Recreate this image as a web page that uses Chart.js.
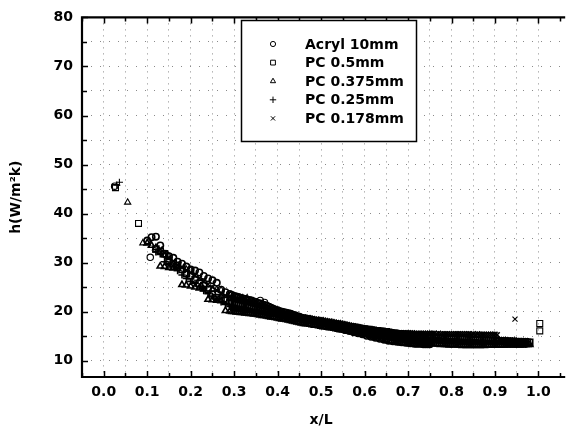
<!DOCTYPE html>
<html><head><meta charset="utf-8">
<script src="https://cdn.jsdelivr.net/npm/chart.js@4.4.0/dist/chart.umd.min.js"></script>
<style>html,body{margin:0;padding:0;background:#fff;overflow:hidden}#wrap{width:566px;height:429px;position:relative}</style>
</head><body><div id="wrap"><canvas id="c" width="566" height="429"></canvas></div>
<script>
// ---- data ----
const seriesNames = ['Acryl 10mm', 'PC 0.5mm', 'PC 0.375mm', 'PC 0.25mm', 'PC 0.178mm'];
const xTickLabels = ['0.0','0.1','0.2','0.3','0.4','0.5','0.6','0.7','0.8','0.9','1.0'];
const yTickLabels = ['10','20','30','40','50','60','70','80'];

const bandX = [
  0.10,0.11,0.12,0.13,0.14,0.15,0.16,0.17,0.18,0.19,
  0.20,0.21,0.22,0.23,0.24,0.25,0.26,0.27,0.28,0.29,
  0.30,0.31,0.32,0.33,0.34,0.35,0.36,0.37,0.38,0.39,
  0.40,0.41,0.42,0.43,0.44,0.45,0.46,0.47,0.48,0.49,
  0.50,0.51,0.52,0.53,0.54,0.55,0.56,0.57,0.58,0.59,
  0.60,0.61,0.62,0.63,0.64,0.65,0.66,0.67,0.68,0.69,
  0.70,0.71,0.72,0.73,0.74,0.75,0.76,0.77,0.78,0.79,
  0.80,0.81,0.82,0.83,0.84,0.85,0.86,0.87,0.88,0.89,
  0.90,0.91,0.92,0.93,0.94,0.95,0.96,0.97,0.98
];
const bandX2 = [
  0.295,0.305,0.315,0.325,0.335,0.345,0.355,0.365,0.375,0.385,
  0.395,0.405,0.415,0.425,0.435,0.445,0.455,0.465,0.475,0.485,
  0.495,0.505,0.515,0.525,0.535,0.545,0.555,0.565,0.575,0.585,
  0.595,0.605,0.615,0.625,0.635,0.645,0.655,0.665,0.675,0.685,
  0.695,0.705,0.715,0.725,0.735,0.745,0.755,0.765,0.775,0.785,
  0.795,0.805,0.815,0.825,0.835,0.845,0.855,0.865,0.875,0.885,
  0.895,0.905,0.915,0.925,0.935,0.945,0.955,0.965,0.975
];

const acrylY = [
  34.5,35.2,35.3,33.5,31.8,31.3,31.0,30.2,29.8,29.2,
  28.6,28.4,28.0,27.3,26.8,26.4,25.9,24.5,24.0,23.6,
  23.2,23.0,22.7,22.4,22.3,22.0,21.7,21.4,21.0,20.6,
  20.3,20.0,19.8,19.6,19.3,19.0,18.7,18.5,18.3,18.0,
  17.9,17.7,17.5,17.3,17.0,16.8,16.5,16.2,16.0,15.7,
  15.5,15.3,15.0,14.8,14.6,14.4,14.2,14.0,13.9,13.8,
  13.7,13.6,13.5,13.5,13.4,13.4,null,null,null,null,
  null,null,null,null,null,null,null,null,null,null,
  null,null,null,null,null,null,null,null,null
];
const acrylY2 = [
  23.4,23.1,22.8,22.6,22.4,22.1,21.8,21.5,21.2,20.8,
  20.4,20.1,19.9,19.7,19.4,19.1,18.8,18.6,18.4,18.1,
  17.8,17.6,17.4,17.1,16.9,16.6,16.3,16.1,15.8,15.6,
  15.4,15.1,14.9,14.7,14.5,14.3,14.1,14.0,13.9,13.8,
  13.7,13.6,13.5,13.5,13.4,13.4,null,null,null,null,
  null,null,null,null,null,null,null,null,null,null,
  null,null,null,null,null,null,null,null,null
];
const pc05Y = [
  null,null,32.8,32.3,31.8,30.5,29.8,29.5,28.6,27.8,
  27.3,26.5,25.8,25.3,24.5,23.6,22.9,22.6,22.3,22.0,
  21.6,21.4,21.2,21.0,20.8,20.5,20.3,20.1,19.9,19.8,
  19.6,19.4,19.2,19.0,18.8,18.7,18.5,18.4,18.2,18.1,
  17.9,17.8,17.6,17.5,17.3,17.2,17.0,16.9,16.8,16.6,
  16.5,16.4,16.2,16.1,16.0,15.9,15.7,15.6,15.5,15.4,
  15.3,15.2,15.1,15.0,14.9,14.8,14.8,14.7,14.6,14.6,
  14.5,14.5,14.4,14.4,14.3,14.3,14.3,14.2,14.2,14.2,
  14.1,14.1,14.0,14.0,14.0,13.9,13.9,13.9,13.8
];
const pc05Y2 = [
  21.8,21.5,21.3,21.1,20.9,20.6,20.4,20.2,20.0,19.9,
  19.7,19.5,19.3,19.1,18.9,18.7,18.6,18.4,18.3,18.1,
  18.0,17.8,17.7,17.5,17.4,17.2,17.1,16.9,16.8,16.7,
  16.5,16.4,16.3,16.1,16.0,15.9,15.8,15.6,15.5,15.4,
  15.3,15.2,15.1,15.0,14.9,14.8,14.7,14.7,14.6,14.6,
  14.5,14.5,14.4,14.4,14.3,14.3,14.2,14.2,14.2,14.1,
  14.1,14.0,14.0,13.9,13.9,13.9,13.8,13.8,13.8
];
const pc0375Y = [
  34.0,33.5,33.0,29.3,29.2,29.0,28.9,28.8,25.5,25.4,
  25.2,25.0,24.8,24.6,22.5,22.4,22.3,22.2,20.2,20.1,
  20.0,19.9,19.8,19.7,19.6,19.5,19.3,19.2,19.0,18.9,
  18.7,18.5,18.4,18.2,18.0,17.8,17.6,17.5,17.3,17.2,
  17.0,16.9,16.7,16.6,16.4,16.3,16.1,16.0,15.8,15.7,
  15.5,15.4,15.2,15.1,14.9,14.8,14.6,14.5,14.3,14.2,
  14.0,13.9,13.8,13.7,13.6,13.5,13.5,13.4,13.4,13.3,
  13.3,13.3,13.2,13.2,13.2,13.2,13.2,13.2,13.2,13.2,
  13.2,13.2,13.2,13.3,13.3,13.3,13.3,13.3,13.3
];
const pc0375Y2 = [
  20.0,19.9,19.8,19.7,19.6,19.5,19.4,19.2,19.1,18.9,
  18.8,18.6,18.5,18.3,18.1,17.9,17.7,17.5,17.4,17.2,
  17.1,16.9,16.8,16.7,16.5,16.3,16.2,16.0,15.9,15.7,
  15.6,15.4,15.3,15.1,15.0,14.8,14.7,14.5,14.4,14.2,
  14.1,14.0,13.9,13.8,13.6,13.5,13.5,13.4,13.3,13.3,
  13.2,13.2,13.2,13.1,13.1,13.1,13.1,13.1,13.1,13.2,
  13.2,13.2,13.2,13.2,13.2,13.2,13.2,13.2,13.3
];
const pc025Y = [
  null,null,32.2,31.8,30.2,29.6,29.3,28.4,27.5,26.8,
  26.2,25.8,25.1,24.3,23.7,23.2,22.6,22.0,21.5,21.1,
  20.8,20.6,20.5,20.3,20.1,20.0,19.8,19.6,19.4,19.3,
  19.1,18.9,18.7,18.5,18.4,18.2,18.0,17.9,17.7,17.6,
  17.4,17.3,17.1,17.0,16.8,16.7,16.5,16.4,16.2,16.1,
  15.9,15.8,15.7,15.5,15.4,15.3,15.2,15.0,14.9,14.8,
  14.7,14.6,14.5,14.4,14.3,14.2,14.2,14.1,14.0,14.0,
  13.9,13.9,13.8,13.8,13.8,13.7,13.7,13.7,13.6,13.6,
  13.6,13.5,13.5,13.5,13.5,13.4,13.4,13.4,null
];
const pc025Y2 = [
  21.0,20.7,20.5,20.4,20.2,20.0,19.9,19.7,19.5,19.3,
  19.2,19.0,18.8,18.6,18.4,18.3,18.1,17.9,17.8,17.6,
  17.5,17.3,17.2,17.0,16.9,16.7,16.6,16.4,16.3,16.1,
  16.0,15.8,15.7,15.6,15.4,15.3,15.2,15.1,14.9,14.8,
  14.7,14.6,14.5,14.4,14.3,14.3,14.2,14.1,14.1,14.0,
  13.9,13.9,13.8,13.8,13.8,13.7,13.7,13.6,13.6,13.6,
  13.6,13.5,13.5,13.5,13.4,13.4,13.4,13.4,null
];
const pc0178Y = [
  null,null,null,32.8,32.0,31.0,30.3,29.6,29.0,28.4,
  27.9,27.4,26.8,26.2,25.6,25.0,24.4,23.6,23.3,23.0,
  22.6,22.4,22.2,22.0,21.8,21.6,21.3,21.0,20.6,20.3,
  20.0,19.8,19.6,19.4,19.2,19.0,18.9,18.8,18.6,18.5,
  18.4,18.2,18.1,17.9,17.8,17.6,17.4,17.2,17.0,16.8,
  16.6,16.4,16.3,16.2,16.1,16.0,15.9,15.8,15.7,15.7,
  15.7,15.7,15.6,15.6,15.6,15.6,15.6,15.6,15.5,15.5,
  15.5,15.5,15.5,15.5,15.5,15.5,15.5,15.4,15.4,15.4,
  15.4,14.3,14.3,14.2,14.2,14.1,14.1,14.1,null
];
const pc0178Y2 = [
  22.8,22.5,22.3,22.1,21.9,21.7,21.4,21.1,20.8,20.4,
  20.1,19.9,19.7,19.5,19.3,19.1,18.9,18.8,18.7,18.5,
  18.4,18.3,18.1,18.0,17.8,17.7,17.5,17.3,17.1,16.9,
  16.7,16.5,16.4,16.2,16.1,16.0,15.9,15.8,15.7,15.7,
  15.7,15.7,15.6,15.6,15.6,15.6,15.6,15.5,15.5,15.5,
  15.5,15.5,15.5,15.5,15.5,15.4,15.4,15.4,15.4,15.4,
  15.4,15.3,14.3,14.3,14.2,14.2,14.1,14.1,null
];

// isolated points outside the dense band
const acrylExtraX  = [0.025, 0.107, 0.145, 0.36, 0.37];
const acrylExtraY  = [45.6, 31.1, 31.5, 22.3, 21.9];
const pc05ExtraX   = [0.027, 0.08, 1.003, 1.003];
const pc05ExtraY   = [45.3, 38.0, 17.6, 16.1];
const pc0375ExtraX = [0.055, 0.09, 0.19, 0.20, 0.25, 0.26, 0.27, 0.29, 0.30, 0.31, 0.32, 0.33];
const pc0375ExtraY = [42.3, 34.0, 28.6, 28.5, 24.6, 24.5, 24.4, 22.6, 22.6, 22.7, 22.8, 22.8];
const pc025ExtraX  = [0.036, 0.03];
const pc025ExtraY  = [46.4, 45.8];
const pc0178ExtraX = [0.946];
const pc0178ExtraY = [18.5];

// ---- build ----
function pts(ex, ey, by, by2) {
  const out = ex.map((x, i) => ({ x: x, y: ey[i], iso: true }));
  bandX.forEach((x, i) => { if (by[i] !== null) out.push({ x: x, y: by[i] }); });
  bandX2.forEach((x, i) => { if (by2[i] !== null) out.push({ x: x, y: by2[i] }); });
  return out;
}
const styles = [
  { pointStyle: 'circle', r: 3.2, lr: 2.6 },
  { pointStyle: 'rect', r: 4.2, lr: 3.4 },
  { pointStyle: 'triangle', r: 3.6, lr: 3.0 },
  { pointStyle: 'cross', r: 3.6, lr: 3.2 },
  { pointStyle: 'crossRot', r: 3.6, lr: 3.0 }
];
const allData = [
  pts(acrylExtraX, acrylExtraY, acrylY, acrylY2),
  pts(pc05ExtraX, pc05ExtraY, pc05Y, pc05Y2),
  pts(pc0375ExtraX, pc0375ExtraY, pc0375Y, pc0375Y2),
  pts(pc025ExtraX, pc025ExtraY, pc025Y, pc025Y2),
  pts(pc0178ExtraX, pc0178ExtraY, pc0178Y, pc0178Y2)
];
const datasets = seriesNames.map((name, i) => ({
  label: name,
  data: allData[i],
  showLine: false,
  pointStyle: styles[i].pointStyle,
  pointRadius: styles[i].r,
  pointHoverRadius: styles[i].r,
  pointBorderWidth: c => (c.raw && c.raw.iso) ? 1.1 : 1.6,
  borderColor: '#000',
  backgroundColor: 'rgba(0,0,0,0)',
  legendRadius: styles[i].lr
}));

const FONT = 'DejaVu Sans';

const framePlugin = {
  id: 'frame',
  afterDatasetsDraw(chart) {
    const { ctx, chartArea: { left, right, top, bottom }, scales: { x, y } } = chart;
    ctx.save();
    ctx.strokeStyle = '#000';
    ctx.lineWidth = 1.5;
    ctx.beginPath();
    x.ticks.forEach(t => {
      const px = Math.round(x.getPixelForValue(t.value)) + 0.5;
      const major = Math.round(t.value * 100) % 10 === 0;
      const len = major ? 6 : 4;
      ctx.moveTo(px, bottom); ctx.lineTo(px, bottom - len);
      ctx.moveTo(px, top); ctx.lineTo(px, top + len);
    });
    y.ticks.forEach(t => {
      const py = Math.round(y.getPixelForValue(t.value)) + 0.5;
      const major = Math.round(t.value) % 10 === 0;
      const len = major ? 6 : 5;
      ctx.moveTo(left, py); ctx.lineTo(left + len, py);
    });
    ctx.stroke();
    ctx.lineWidth = 2.2;
    ctx.beginPath();
    ctx.moveTo(right + 5, top); ctx.lineTo(left, top); ctx.lineTo(left, bottom); ctx.lineTo(right + 5, bottom);
    ctx.stroke();
    ctx.restore();
  }
};

const legendPlugin = {
  id: 'boxLegend',
  afterDraw(chart) {
    const ctx = chart.ctx;
    const L = 241, T = 20, W = 175, H = 121;
    ctx.save();
    ctx.fillStyle = '#fff';
    ctx.fillRect(L, T, W, H);
    ctx.strokeStyle = '#000';
    ctx.lineWidth = 1.5;
    ctx.strokeRect(L + 0.5, T + 0.5, W, H);
    ctx.font = 'bold 14px "' + FONT + '"';
    ctx.textBaseline = 'middle';
    ctx.textAlign = 'left';
    chart.data.datasets.forEach((ds, i) => {
      const yy = 44 + i * 18.6;
      ctx.strokeStyle = '#000';
      ctx.fillStyle = 'rgba(0,0,0,0)';
      ctx.lineWidth = 1;
      Chart.helpers.drawPoint(ctx, { pointStyle: ds.pointStyle, radius: ds.legendRadius, borderWidth: 1, rotation: 0 }, 273, yy);
      ctx.fillStyle = '#000';
      ctx.fillText(ds.label, 305, yy + 1);
    });
    ctx.restore();
  }
};

const gridColor = '#8a8a8a';
new Chart(document.getElementById('c'), {
  type: 'scatter',
  data: { datasets: datasets },
  options: {
    responsive: false,
    animation: false,
    devicePixelRatio: 1,
    layout: { padding: { top: 16, right: 0, left: 0, bottom: 0 } },
    plugins: { legend: { display: false }, tooltip: { enabled: false } },
    scales: {
      x: {
        type: 'linear', min: -0.05, max: 1.05,
        afterFit: s => { s.height = 52; s.paddingRight = 0; s.paddingLeft = 0; },
        ticks: {
          stepSize: 0.05, autoSkip: false, maxRotation: 0, padding: 7, color: '#000',
          font: { family: FONT, size: 14, weight: 'bold' },
          callback: v => {
            const k = Math.round(v * 100);
            if (k < 0 || k % 10 !== 0) return '';
            return xTickLabels[k / 10];
          }
        },
        grid: { drawTicks: false, lineWidth: 1,
          color: c => (c.tick && (c.tick.value > 1.04 || c.tick.value < -0.04)) ? 'rgba(0,0,0,0)' : gridColor },
        border: { display: false, dash: [1, 5] },
        title: { display: true, text: 'x/L', color: '#000', padding: { top: 0, bottom: 0 },
          font: { family: FONT, size: 14, weight: 'bold' } }
      },
      y: {
        type: 'linear', min: 6.7, max: 80,
        afterFit: s => { s.width = 82; },
        afterBuildTicks: s => {
          s.ticks = s.ticks.filter(t => Math.abs(t.value / 5 - Math.round(t.value / 5)) < 1e-6);
        },
        ticks: {
          stepSize: 5, autoSkip: false, padding: 9, color: '#000',
          font: { family: FONT, size: 14, weight: 'bold' },
          callback: v => {
            const k = Math.round(v);
            if (k % 10 !== 0) return '';
            return yTickLabels[k / 10 - 1];
          }
        },
        grid: { drawTicks: false, lineWidth: 1,
          color: c => (c.tick && c.tick.value > 79) ? 'rgba(0,0,0,0)' : gridColor },
        border: { display: false, dash: [1, 8] },
        title: { display: true, text: 'h(W/m²k)', color: '#000', padding: { top: 8, bottom: 0 },
          font: { family: FONT, size: 14, weight: 'bold' } }
      }
    }
  },
  plugins: [framePlugin, legendPlugin]
});
</script></body></html>
